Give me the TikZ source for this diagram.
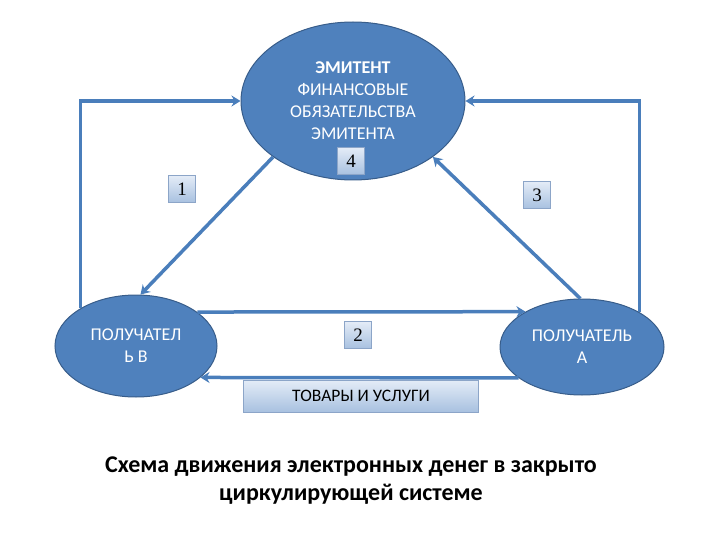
\documentclass[tikz,border=0pt]{standalone}
\usepackage{fontspec}
\setmainfont{Carlito}
\newfontfamily\numfont{Liberation Serif}
\usetikzlibrary{arrows.meta,shapes.geometric}

\definecolor{ellfill}{RGB}{79,129,189}
\definecolor{elldraw}{RGB}{56,93,138}
\definecolor{linecol}{RGB}{74,126,187}
\definecolor{boxtop}{RGB}{228,236,247}
\definecolor{boxbot}{RGB}{168,193,224}
\definecolor{boxdraw}{RGB}{140,165,200}

\begin{document}
\begin{tikzpicture}[x=1pt, y=-1pt, >={Stealth[length=9pt,width=11pt]},
  ell/.style={ellipse, draw=elldraw, line width=1pt, fill=ellfill, text=white, inner sep=0pt, align=center, font=\fontsize{18}{22}\selectfont},
  numbox/.style={draw=boxdraw, top color=boxtop, bottom color=boxbot, minimum width=27pt, minimum height=27pt, inner sep=0pt, font=\numfont\fontsize{19}{19}\selectfont},
  wbox/.style={draw=boxdraw, top color=boxtop, bottom color=boxbot, minimum width=235pt, minimum height=32pt, inner sep=0pt, font=\fontsize{17.5}{17.5}\selectfont},
  link/.style={draw=linecol, line width=3.5pt, ->}
]
\useasboundingbox (0,0) rectangle (720,540);
% participants
\node[ell, minimum width=224pt, minimum height=158pt] (emit) at (353,101) {\textbf{ЭМИТЕНТ}\\ФИНАНСОВЫЕ\\ОБЯЗАТЕЛЬСТВА\\ЭМИТЕНТА};
\node[ell, minimum width=162pt, minimum height=102pt] (recvB) at (136,346) {ПОЛУЧАТЕЛ\\Ь В};
\node[ell, minimum width=164pt, minimum height=96pt] (recvA) at (582,347) {ПОЛУЧАТЕЛЬ\\А};
% flows
\draw[link] (recvB.146.7) |- (emit.west);
\draw[link] (recvA.31.2) |- (emit.east);
\draw[link] (emit.215.5) -- (recvB.85);
\draw[link] (recvA.92) -- (emit.-35);
\draw[link] (recvB.29.4) -- (recvA.148);
\draw[link] (recvA.206.3) -- (recvB.-26.9);
% step numbers
\node[numbox] (n1) at (182,189) {1};
\node[numbox] (n2) at (358,335) {2};
\node[numbox] (n3) at (537,195) {3};
\node[numbox] (n4) at (351,161) {4};
\node[wbox] (goods) at (361,396) {ТОВАРЫ И УСЛУГИ};
% caption
\node[font=\bfseries\fontsize{24}{28}\selectfont, align=center] (cap) at (351,481) {Схема движения электронных денег в закрыто\\циркулирующей системе};
\end{tikzpicture}
\end{document}
